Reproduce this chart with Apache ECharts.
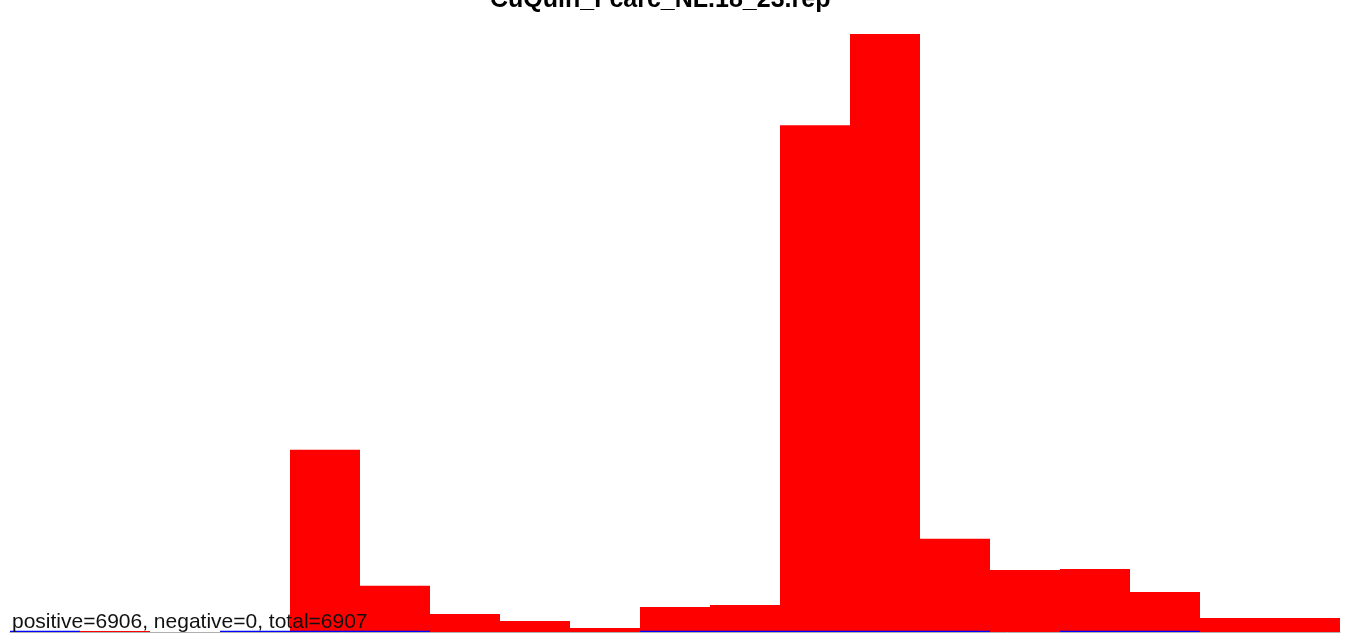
<!DOCTYPE html>
<html>
<head>
<meta charset="utf-8">
<script src="https://cdn.jsdelivr.net/npm/echarts@6/dist/echarts.min.js"></script>
<style>html,body{margin:0;padding:0;background:#fff}#c{width:1357px;height:643px}</style>
</head>
<body>
<div id="c"></div>
<script>
const titleText = "CuQuin_Fcarc_NL.18_23.rep";
const summaryText = "positive=6906, negative=0, total=6907";
const bins = ["0","1","2","3","4","5","6","7","8","9","10","11","12","13","14","15","16","17","18"];
const positiveCounts = [0, 4, 0, 0, 738, 187, 73, 45, 16, 101, 109, 2052, 2421, 378, 251, 255, 162, 57, 57];
const negativeMarks = [5, 0, 0, 5, 5, 5, 0, 0, 0, 5, 5, 5, 5, 5, 0, 5, 5, 0, 0];
const yMax = 2421;

const chart = echarts.init(document.getElementById('c'), null, {renderer: 'canvas'});
chart.setOption({
  animation: false,
  backgroundColor: '#ffffff',
  title: {
    text: titleText,
    left: 485,
    top: -17,
    textStyle: {fontFamily: 'Liberation Sans', fontWeight: 'bold', fontSize: 25, color: '#000'}
  },
  grid: {left: 10, right: 17, top: 34, bottom: 11, containLabel: false},
  xAxis: {
    type: 'category',
    data: bins,
    boundaryGap: true,
    axisLine: {show: true, lineStyle: {color: '#b0b0b0', width: 1}},
    axisTick: {show: false},
    axisLabel: {show: false},
    splitLine: {show: false}
  },
  yAxis: {
    type: 'value',
    min: 0,
    max: yMax,
    show: false,
    splitLine: {show: false}
  },
  series: [
    {
      name: 'positive',
      type: 'bar',
      data: positiveCounts,
      barWidth: '100%',
      barCategoryGap: 0,
      itemStyle: {color: '#ff0000'},
      z: 2
    },
    {
      name: 'negative',
      type: 'bar',
      data: negativeMarks,
      barWidth: '100%',
      barGap: '-100%',
      itemStyle: {color: '#0000ff'},
      z: 3
    }
  ],
  graphic: [{
    type: 'text',
    left: 12,
    top: 612,
    z: 100,
    style: {text: summaryText, fontFamily: 'Liberation Sans', fontSize: 21, fill: '#111'}
  }]
});
</script>
</body>
</html>
